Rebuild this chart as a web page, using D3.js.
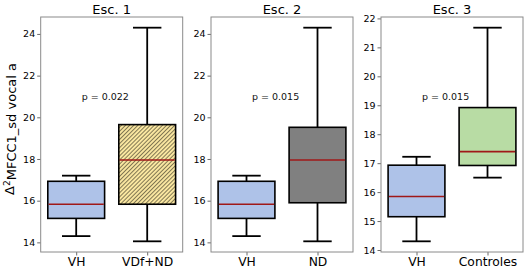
<!DOCTYPE html>
<html>
<head>
<meta charset="utf-8">
<script src="https://cdn.jsdelivr.net/npm/d3@7"></script>
<style>
  body { margin: 0; background: #fff; }
  svg { display: block; font-family: "DejaVu Sans", sans-serif; }
</style>
</head>
<body>
<div id="chart"></div>
<script>
// data
var titles = ["Esc. 1", "Esc. 2", "Esc. 3"];
var groups = [["VH", "VDf+ND"], ["VH", "ND"], ["VH", "Controles"]];
var pvalues = ["p = 0.022", "p = 0.015", "p = 0.015"];
// [lower whisker, Q1, median, Q3, upper whisker]
var stats = [
    [[14.3, 15.15, 15.83, 16.93, 17.2], [14.05, 15.83, 17.95, 19.65, 24.3]],
    [[14.3, 15.15, 15.83, 16.93, 17.2], [14.05, 15.9, 17.95, 19.52, 24.3]],
    [[14.3, 15.15, 15.85, 16.93, 17.22], [16.5, 16.92, 17.4, 18.92, 21.68]]
];
var fills = [["#aec2e8", "#f9e6a0"], ["#aec2e8", "#808080"], ["#aec2e8", "#b8dca4"]];
var hatched = [[false, true], [false, false], [false, false]];
var yTicks = [
    [14, 16, 18, 20, 22, 24],
    [14, 16, 18, 20, 22, 24],
    [14, 15, 16, 17, 18, 19, 20, 21, 22]
];
var ylabel = ["Δ", "2", "MFCC1_sd vocal a"];

var width = 529, height = 272;
var panelLeft = [40.7, 211, 381],
    panelW = 142,
    plotTop = 17, plotBottom = 252;

var svg = d3.select("#chart").append("svg")
    .attr("width", width)
    .attr("height", height);

var defs = svg.append("defs");
defs.append("pattern")
    .attr("id", "hatch")
    .attr("patternUnits", "userSpaceOnUse")
    .attr("width", 2.9)
    .attr("height", 2.9)
    .attr("patternTransform", "rotate(45)")
    .append("line")
    .attr("x1", 0).attr("y1", 0)
    .attr("x2", 0).attr("y2", 2.9)
    .style("stroke", "#000")
    .style("stroke-width", 0.95);

titles.forEach(function (title, i) {

    var all = d3.merge(stats[i]);
    var lo = d3.min(all), hi = d3.max(all), pad = (hi - lo) * 0.05;

    var x = d3.scaleLinear()
        .domain([0.5, 2.5])
        .range([panelLeft[i], panelLeft[i] + panelW]);

    var y = d3.scaleLinear()
        .domain([lo - pad, hi + pad])
        .range([plotBottom, plotTop]);

    var g = svg.append("g");

    // y axis
    var yAxis = g.append("g")
        .attr("transform", "translate(" + panelLeft[i] + ",0)")
        .call(d3.axisLeft(y).tickValues(yTicks[i]).tickSize(3.5).tickPadding(2).tickFormat(d3.format("d")));
    yAxis.select(".domain").remove();
    yAxis.selectAll("line").style("stroke", "#444").style("stroke-width", 0.8);
    yAxis.selectAll("text")
        .style("font-size", "9.5px")
        .style("fill", "#000")
        .style("font-family", "DejaVu Sans");

    // x axis
    var xAxis = g.append("g")
        .attr("transform", "translate(0," + plotBottom + ")")
        .call(d3.axisBottom(x).tickValues([1, 2]).tickSize(3.5).tickPadding(2)
            .tickFormat(function (d) { return groups[i][d - 1]; }));
    xAxis.select(".domain").remove();
    xAxis.selectAll("line").style("stroke", "#444").style("stroke-width", 0.8);
    xAxis.selectAll("text")
        .style("font-size", "12.3px")
        .style("fill", "#000")
        .style("font-family", "DejaVu Sans");

    // boxes
    var box = g.selectAll(".box")
        .data(stats[i])
        .enter()
        .append("g")
        .attr("class", "box");

    var bw = x(1.4) - x(1), cw = x(1.2) - x(1);

    box.append("line") // whisker lower
        .attr("x1", function (d, j) { return x(j + 1); })
        .attr("x2", function (d, j) { return x(j + 1); })
        .attr("y1", function (d) { return y(d[0]); })
        .attr("y2", function (d) { return y(d[1]); });
    box.append("line") // whisker upper
        .attr("x1", function (d, j) { return x(j + 1); })
        .attr("x2", function (d, j) { return x(j + 1); })
        .attr("y1", function (d) { return y(d[3]); })
        .attr("y2", function (d) { return y(d[4]); });
    box.append("line") // cap lower
        .attr("x1", function (d, j) { return x(j + 1) - cw; })
        .attr("x2", function (d, j) { return x(j + 1) + cw; })
        .attr("y1", function (d) { return y(d[0]); })
        .attr("y2", function (d) { return y(d[0]); });
    box.append("line") // cap upper
        .attr("x1", function (d, j) { return x(j + 1) - cw; })
        .attr("x2", function (d, j) { return x(j + 1) + cw; })
        .attr("y1", function (d) { return y(d[4]); })
        .attr("y2", function (d) { return y(d[4]); });
    box.selectAll("line")
        .style("stroke", "#000")
        .style("stroke-width", 1.8);

    box.append("rect")
        .attr("x", function (d, j) { return x(j + 1) - bw; })
        .attr("width", 2 * bw)
        .attr("y", function (d) { return y(d[3]); })
        .attr("height", function (d) { return y(d[1]) - y(d[3]); })
        .style("fill", function (d, j) { return fills[i][j]; })
        .style("stroke", "none");

    box.filter(function (d, j) { return hatched[i][j]; })
        .append("rect")
        .attr("x", function (d) { return x(2) - bw; })
        .attr("width", 2 * bw)
        .attr("y", function (d) { return y(d[3]); })
        .attr("height", function (d) { return y(d[1]) - y(d[3]); })
        .style("fill", "url(#hatch)");

    box.append("rect")
        .attr("x", function (d, j) { return x(j + 1) - bw; })
        .attr("width", 2 * bw)
        .attr("y", function (d) { return y(d[3]); })
        .attr("height", function (d) { return y(d[1]) - y(d[3]); })
        .style("fill", "none")
        .style("stroke", "#000")
        .style("stroke-width", 1.6);

    box.append("line") // median
        .attr("x1", function (d, j) { return x(j + 1) - bw + 0.8; })
        .attr("x2", function (d, j) { return x(j + 1) + bw - 0.8; })
        .attr("y1", function (d) { return y(d[2]); })
        .attr("y2", function (d) { return y(d[2]); })
        .style("stroke", "#a01818")
        .style("stroke-width", 1.6);

    // frame
    g.append("rect")
        .attr("x", panelLeft[i])
        .attr("y", plotTop)
        .attr("width", panelW)
        .attr("height", plotBottom - plotTop)
        .style("fill", "none")
        .style("stroke", "#8a8a8a")
        .style("stroke-width", 1);

    // title
    g.append("text")
        .attr("x", panelLeft[i] + panelW / 2)
        .attr("y", 14)
        .attr("text-anchor", "middle")
        .style("font-size", "13px")
        .style("fill", "#000")
        .text(title);

    // p value
    g.append("text")
        .attr("x", x(1.41))
        .attr("y", plotBottom - (plotBottom - plotTop) * 0.66)
        .attr("dy", "0.35em")
        .attr("text-anchor", "middle")
        .style("font-size", "9.5px")
        .style("fill", "#111")
        .text(pvalues[i]);
});

var yl = svg.append("text")
    .attr("transform", "translate(14," + 129 + ") rotate(-90)")
    .attr("text-anchor", "middle")
    .style("font-size", "13px")
    .style("fill", "#000");
yl.append("tspan").text(ylabel[0]);
yl.append("tspan").attr("dy", "-0.45em").style("font-size", "9px").text(ylabel[1]);
yl.append("tspan").attr("dy", "0.45em").text(ylabel[2]);
</script>
</body>
</html>
